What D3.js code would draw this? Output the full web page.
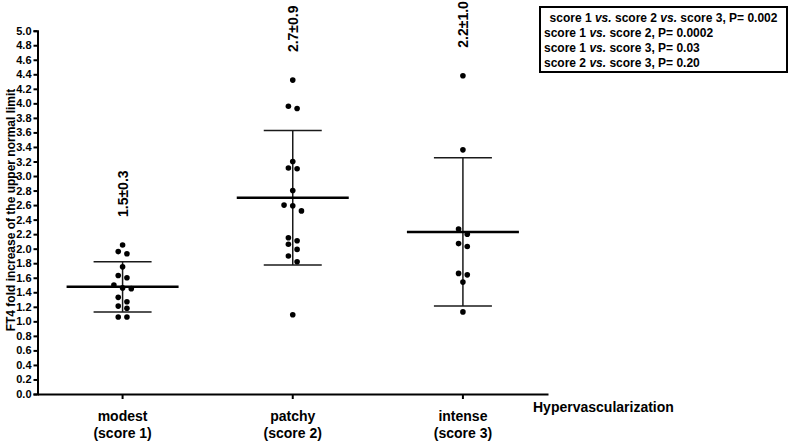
<!DOCTYPE html>
<html>
<head>
<meta charset="utf-8">
<script src="https://cdn.jsdelivr.net/npm/d3@7"></script>
<style>
  body { margin: 0; background: #fff; }
  svg { display: block; font-family: Arial, "Liberation Sans", sans-serif; font-weight: bold; }
</style>
</head>
<body>
<svg id="chart" width="789" height="442"></svg>
<script>
// values
var categories = ["modest", "patchy", "intense"];
var subLabels = ["(score 1)", "(score 2)", "(score 3)"];
var modestValues = [2.05, 1.96, 1.93, 1.75, 1.63, 1.60, 1.50, 1.46, 1.45, 1.33, 1.27, 1.21, 1.18, 1.06, 1.06];
var patchyValues = [4.32, 3.96, 3.93, 3.20, 3.11, 3.10, 2.80, 2.60, 2.59, 2.52, 2.15, 2.11, 2.06, 1.99, 1.90, 1.82, 1.09];
var intenseValues = [4.38, 3.36, 2.27, 2.20, 2.07, 2.03, 1.66, 1.64, 1.54, 1.13];
var means = [1.475, 2.70, 2.23];
var sds = [0.345, 0.925, 1.02];
var statLabels = ["1.5±0.3", "2.7±0.9", "2.2±1.0"];
var yTicks = d3.range(0, 26).map(function (i) { return i * 0.2; });
var legendLines = [
  [["score 1 ", false], ["vs.", true], [" score 2 ", false], ["vs.", true], [" score 3, P= 0.002", false]],
  [["score 1 ", false], ["vs.", true], [" score 2, P= 0.0002", false]],
  [["score 1 ", false], ["vs.", true], [" score 3, P= 0.03", false]],
  [["score 2 ", false], ["vs.", true], [" score 3, P= 0.20", false]]
];
var groups = [modestValues, patchyValues, intenseValues];

var svg = d3.select("#chart");

var y = d3.scaleLinear().domain([0, 5]).range([394, 30.7]);
var x = d3.scaleBand().domain(categories).range([37.5, 548]).padding(0);
var bw = x.bandwidth();

// y axis
var yAxis = svg.append("g")
    .attr("transform", "translate(37.5,0)")
    .call(d3.axisLeft(y).tickValues(yTicks).tickFormat(d3.format(".1f")).tickSize(4).tickPadding(2));
yAxis.select(".domain").attr("stroke", "#000").attr("stroke-width", 2);
yAxis.selectAll(".tick line").attr("stroke", "#000").attr("stroke-width", 2);
yAxis.selectAll(".tick text").attr("font-size", 11).attr("font-weight", "bold").attr("fill", "#000")
    .attr("font-family", "Arial, 'Liberation Sans', sans-serif");

// x axis
var xAxis = svg.append("g")
    .attr("transform", "translate(0,394)")
    .call(d3.axisBottom(x).tickSize(5).tickSizeOuter(0).tickFormat(""));
xAxis.select(".domain").attr("stroke", "#000").attr("stroke-width", 2);
xAxis.selectAll(".tick line").attr("stroke", "#000").attr("stroke-width", 2);

// category labels
categories.forEach(function (c, i) {
  var t = svg.append("text")
      .attr("x", x(c) + bw / 2)
      .attr("y", 421)
      .attr("text-anchor", "middle")
      .attr("font-size", 14);
  t.append("tspan").attr("x", x(c) + bw / 2).text(c);
  t.append("tspan").attr("x", x(c) + bw / 2).attr("dy", 17).text(subLabels[i]);
});

svg.append("text")
    .attr("x", 533)
    .attr("y", 412)
    .attr("font-size", 14)
    .text("Hypervascularization");

svg.append("text")
    .attr("transform", "translate(15,210) rotate(-90)")
    .attr("text-anchor", "middle")
    .attr("font-size", 12)
    .text("FT4 fold increase of the upper normal limit");

// simple beeswarm: rows of near-equal values are centred around the category
function swarm(values, cx) {
  var sorted = values.slice().sort(function (a, b) { return b - a; });
  var rows = [], row = null;
  sorted.forEach(function (v) {
    var py = y(v);
    if (row && py - row.y0 < 6) row.vals.push(v);
    else { row = { y0: py, vals: [v] }; rows.push(row); }
  });
  var pts = [];
  rows.forEach(function (r) {
    r.vals.forEach(function (v, j) {
      pts.push({ x: cx + (j - (r.vals.length - 1) / 2) * 8.7, y: y(v) });
    });
  });
  return pts;
}

groups.forEach(function (vals, i) {
  var cx = x(categories[i]) + bw / 2;
  var g = svg.append("g");
  var top = y(means[i] + sds[i]), bot = y(means[i] - sds[i]);

  g.append("line").attr("x1", cx).attr("x2", cx).attr("y1", top).attr("y2", bot)
      .attr("stroke", "#1a1a1a").attr("stroke-width", 1.5);
  [top, bot].forEach(function (yy) {
    g.append("line").attr("x1", cx - 29).attr("x2", cx + 29).attr("y1", yy).attr("y2", yy)
        .attr("stroke", "#1a1a1a").attr("stroke-width", 1.5);
  });
  g.append("line").attr("x1", cx - 56).attr("x2", cx + 56)
      .attr("y1", y(means[i])).attr("y2", y(means[i]))
      .attr("stroke", "#000").attr("stroke-width", 2.5);

  g.selectAll("circle").data(swarm(vals, cx)).enter().append("circle")
      .attr("cx", function (d) { return d.x; })
      .attr("cy", function (d) { return d.y; })
      .attr("r", 2.8)
      .attr("fill", "#000");

  svg.append("text")
      .attr("transform", "translate(" + (cx + 5) + "," + (y(d3.max(vals)) - 28) + ") rotate(-90)")
      .attr("font-size", 14)
      .text(statLabels[i]);
});

// p-value box
var legend = svg.append("g");
legend.append("rect").attr("x", 540).attr("y", 7).attr("width", 247).attr("height", 65)
    .attr("fill", "#fff").attr("stroke", "#000").attr("stroke-width", 2);
legendLines.forEach(function (parts, i) {
  var t = legend.append("text")
      .attr("x", i === 0 ? 663.5 : 544)
      .attr("y", 21.5 + i * 15)
      .attr("text-anchor", i === 0 ? "middle" : "start")
      .attr("font-size", 12);
  parts.forEach(function (p) {
    t.append("tspan").attr("font-style", p[1] ? "italic" : "normal").text(p[0]);
  });
});
</script>
</body>
</html>
